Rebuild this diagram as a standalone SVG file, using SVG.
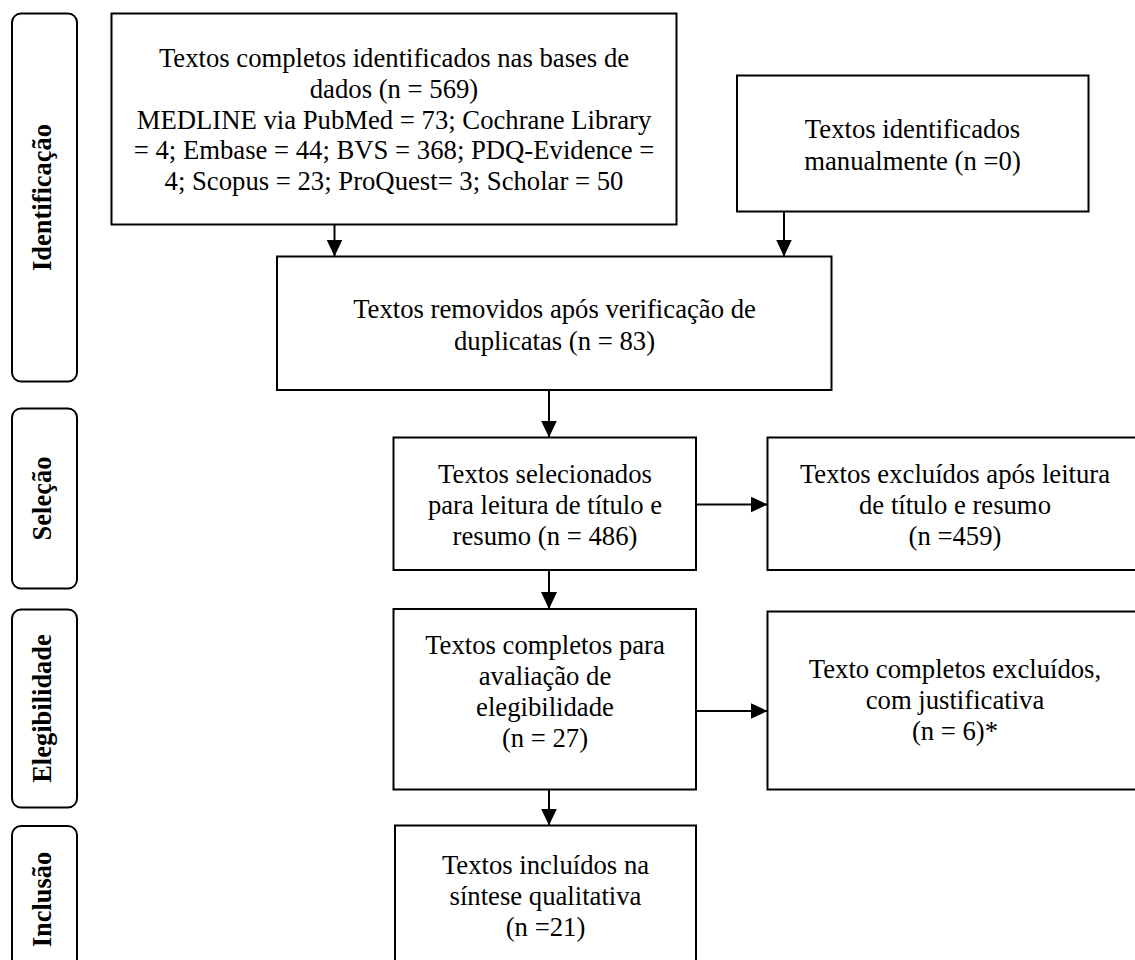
<svg xmlns="http://www.w3.org/2000/svg" width="1135" height="960" viewBox="0 0 1135 960">
<defs>
<style>
.box{fill:#fff;stroke:#000;stroke-width:2}
.lane{fill:#fff;stroke:#000;stroke-width:2}
.t{font-family:"Liberation Serif","Times New Roman",serif;font-size:26.7px;fill:#000;text-anchor:middle}
.lt{font-family:"Liberation Serif","Times New Roman",serif;font-size:26.5px;font-weight:bold;fill:#000;text-anchor:middle}
.c{stroke:#000;stroke-width:2;fill:none;marker-end:url(#ah)}
</style>
<marker id="ah" markerUnits="userSpaceOnUse" markerWidth="17" markerHeight="16" refX="17" refY="8" orient="auto">
<path d="M0,0 L17,8 L0,16 z" fill="#000"/>
</marker>
</defs>
<rect width="1135" height="960" fill="#fff"/>

<g id="lane-identificacao">
<rect class="lane" x="12" y="13.5" width="65" height="368" rx="9"/>
<text class="lt" transform="translate(51,197.5) rotate(-90)">Identificação</text>
</g>
<g id="lane-selecao">
<rect class="lane" x="12" y="408.5" width="65" height="180" rx="9"/>
<text class="lt" transform="translate(51,498.5) rotate(-90)">Seleção</text>
</g>
<g id="lane-elegibilidade">
<rect class="lane" x="12" y="609.5" width="65" height="198" rx="9"/>
<text class="lt" transform="translate(51,708.5) rotate(-90)">Elegibilidade</text>
</g>
<g id="lane-inclusao">
<rect class="lane" x="12" y="826" width="65" height="148" rx="9"/>
<text class="lt" transform="translate(51,899.5) rotate(-90)">Inclusão</text>
</g>

<g id="connectors">
<line class="c" x1="334.5" y1="224.5" x2="334.5" y2="256.5"/>
<line class="c" x1="784" y1="211.5" x2="784" y2="256.5"/>
<line class="c" x1="549" y1="390" x2="549" y2="437.5"/>
<line class="c" x1="549" y1="570" x2="549" y2="609"/>
<line class="c" x1="549" y1="789.5" x2="549" y2="825.5"/>
<line class="c" x1="696" y1="504.5" x2="767.5" y2="504.5"/>
<line class="c" x1="696" y1="711" x2="767.5" y2="711"/>
</g>

<g id="node-bases">
<rect class="box" x="111.5" y="13.5" width="565" height="211"/>
<text class="t" x="394" y="67">Textos completos identificados nas bases de</text>
<text class="t" x="394" y="98">dados (n = 569)</text>
<text class="t" x="394" y="128.5">MEDLINE via PubMed = 73; Cochrane Library</text>
<text class="t" x="394" y="159">= 4; Embase = 44; BVS = 368; PDQ-Evidence =</text>
<text class="t" x="394" y="189.5">4; Scopus = 23; ProQuest= 3; Scholar = 50</text>
</g>

<g id="node-manual">
<rect class="box" x="737" y="75.5" width="351.5" height="136"/>
<text class="t" x="912.5" y="138">Textos identificados</text>
<text class="t" x="912.5" y="169.5">manualmente (n =0)</text>
</g>

<g id="node-duplicatas">
<rect class="box" x="277" y="256.5" width="554.5" height="133.5"/>
<text class="t" x="554.5" y="318">Textos removidos após verificação de</text>
<text class="t" x="554.5" y="349.5">duplicatas (n = 83)</text>
</g>

<g id="node-selecionados">
<rect class="box" x="393.5" y="437.5" width="302.5" height="132.5"/>
<text class="t" x="545" y="482.5">Textos selecionados</text>
<text class="t" x="545" y="513.5">para leitura de título e</text>
<text class="t" x="545" y="544.5">resumo (n = 486)</text>
</g>

<g id="node-excluidos-titulo">
<rect class="box" x="767.5" y="437.5" width="380" height="132.5"/>
<text class="t" x="955" y="482.5">Textos excluídos após leitura</text>
<text class="t" x="955" y="513.5">de título e resumo</text>
<text class="t" x="955" y="544.5">(n =459)</text>
</g>

<g id="node-elegibilidade">
<rect class="box" x="393.5" y="609" width="302.5" height="180.5"/>
<text class="t" x="545" y="654">Textos completos para</text>
<text class="t" x="545" y="685">avaliação de</text>
<text class="t" x="545" y="716">elegibilidade</text>
<text class="t" x="545" y="747">(n = 27)</text>
</g>

<g id="node-excluidos-completos">
<rect class="box" x="767.5" y="611.5" width="380" height="178"/>
<text class="t" x="955" y="678">Texto completos excluídos,</text>
<text class="t" x="955" y="709">com justificativa</text>
<text class="t" x="955" y="740">(n = 6)*</text>
</g>

<g id="node-incluidos">
<rect class="box" x="395" y="825.5" width="301" height="150"/>
<text class="t" x="545.5" y="874">Textos incluídos na</text>
<text class="t" x="545.5" y="905">síntese qualitativa</text>
<text class="t" x="545.5" y="936">(n =21)</text>
</g>
</svg>
